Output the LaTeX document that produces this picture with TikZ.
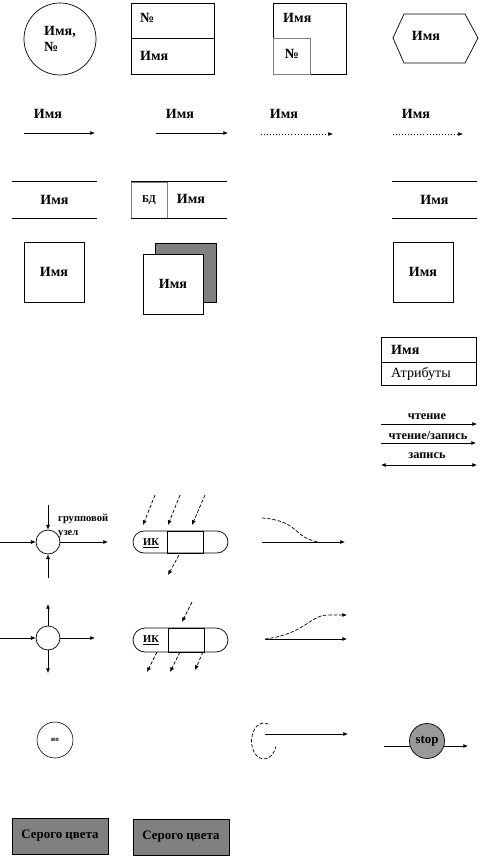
\documentclass[tikz,border=0pt]{standalone}
\usepackage{fontspec}
\setmainfont{Liberation Serif}
\usetikzlibrary{positioning, arrows.meta, shapes.geometric, shapes.misc}
\tikzset{
    lbl/.style={inner sep=0pt, font=\bfseries\fontsize{12}{14}\selectfont},
    smalllbl/.style={inner sep=0pt, font=\bfseries\fontsize{9}{12}\selectfont},
    box/.style={rectangle, draw, fill=white, line width=0.6pt, inner sep=0pt},
    line/.style={line width=0.6pt},
    arrow/.style={-{Latex[length=4pt, width=3.5pt]}, line width=0.6pt}
}

\begin{document}
\begin{tikzpicture}[
        x=0.3mm, y=-0.3mm,
        sqbox/.style={box, minimum width=18mm, minimum height=18mm, font=\bfseries\fontsize{12}{14}\selectfont},
        greybox/.style={box, fill=gray, minimum width=28.8mm, minimum height=10.8mm, font=\bfseries\fontsize{11}{13}\selectfont},
        rwlbl/.style={inner sep=0pt, font=\bfseries\fontsize{10.5}{12}\selectfont},
        junction/.style={circle, draw, fill=white, line width=0.6pt, minimum size=7.2mm, inner sep=0pt},
        pill/.style={rounded rectangle, draw, fill=white, line width=0.6pt, minimum width=28.5mm, inner sep=0pt},
        cell/.style={rectangle, draw, line width=0.6pt, minimum width=10.8mm, inner sep=0pt},
        flow/.style={arrow, dash pattern=on 3pt off 1.5pt},
        biarrow/.style={{Latex[length=4pt, width=3.5pt]}-{Latex[length=4pt, width=3.5pt]}, line width=0.6pt}
    ]
    \useasboundingbox (0,0) rectangle (492,859);

    % --- РЯД 1: СУЩНОСТИ ---
    \node[circle, draw, line width=0.6pt, minimum size=21.6mm, align=left, lbl] (ent) at (60,39) {Имя,\\№};

    \node[box, minimum width=24.9mm, minimum height=10.5mm] (numtop) at (172.5,20.5) {};
    \node[box, minimum width=24.9mm, minimum height=10.8mm] (numbot) at (172.5,56) {};
    \node[lbl, anchor=west] (numno) at (140,18) {№};
    \node[lbl, anchor=west] (numname) at (140,56) {Имя};

    \node[box, minimum width=21.9mm, minimum height=21.3mm] (outer) at (309.5,38.5) {};
    \node[box, draw=gray, minimum width=11.1mm, minimum height=10.8mm] (inner) at (291.5,56) {};
    \node[lbl, anchor=west] (outname) at (283,18) {Имя};
    \node[lbl] (inno) at (292,54) {№};

    \draw[line] (393,38) -- (404,14) -- (465,14) -- (478,38) -- (465,63) -- (404,63) -- cycle;
    \node[lbl] (hexname) at (426,36) {Имя};

    % --- РЯД 2: СТРЕЛКИ С ИМЕНЕМ ---
    \foreach \i/\lx/\ax/\bx/\ay/\sty in {1/48/24/95/133/solid, 2/180/156/228/133/solid, 3/284/261/333/134/dotted, 4/416/393/463/134/dotted} {
        \node[lbl] (name\i) at (\lx,114) {Имя};
        \coordinate (from\i) at (\ax,\ay);
        \coordinate (to\i) at (\bx,\ay);
        \draw[arrow, \sty] (from\i) -- (to\i);
    }

    % --- РЯД 3: ХРАНИЛИЩА ---
    \node[lbl, minimum width=25.5mm, minimum height=10.8mm] (store1) at (54.5,200) {Имя};
    \draw[line] (store1.north west) -- (store1.north east);
    \draw[line] (store1.south west) -- (store1.south east);

    \node[box, draw=gray, minimum width=10.8mm, minimum height=10.8mm, smalllbl] (db) at (149,200) {БД};
    \node[minimum width=28.8mm, minimum height=10.8mm, inner sep=0pt] (store2) at (179,200) {};
    \draw[line] (store2.north west) -- (store2.north east);
    \draw[line] (store2.south west) -- (store2.south east);
    \node[lbl] (dbname) at (191,199) {Имя};

    \node[lbl, minimum width=25.5mm, minimum height=10.8mm] (store3) at (434.5,200) {Имя};
    \draw[line] (store3.north west) -- (store3.north east);
    \draw[line] (store3.south west) -- (store3.south east);

    % --- РЯД 4: РАБОТЫ ---
    \node[sqbox] (proc1) at (54,272) {Имя};
    \node[sqbox, fill=gray, minimum width=18.3mm, minimum height=17.7mm] (back) at (185.5,272.5) {};
    \node[sqbox] (proc2) at (173,284) {Имя};
    \node[sqbox] (proc3) at (423,272) {Имя};

    % --- РЯД 5: СУЩНОСТЬ С АТРИБУТАМИ И ДОСТУП ---
    \node[box, minimum width=28.5mm, minimum height=7.5mm] (ename) at (428.5,349.5) {};
    \node[box, minimum width=28.5mm, minimum height=6.9mm] (eattr) at (428.5,373.5) {};
    \node[lbl, anchor=west] (enametxt) at (391,350) {Имя};
    \node[inner sep=0pt, anchor=west, font=\fontsize{12}{14}\selectfont] (eattrtxt) at (391,374) {Атрибуты};

    \node[rwlbl] (rdtxt) at (427,417) {чтение};
    \coordinate (rd1) at (381,424);
    \coordinate (rd2) at (477,424);
    \draw[arrow] (rd1) -- (rd2);

    \node[rwlbl] (rwtxt) at (428,436) {чтение/запись};
    \coordinate (rw1) at (381,443);
    \coordinate (rw2) at (476,443);
    \draw[arrow] (rw1) -- (rw2);

    \node[rwlbl] (wrtxt) at (427,456) {запись};
    \coordinate (wr1) at (381,465);
    \coordinate (wr2) at (477,465);
    \draw[biarrow] (wr1) -- (wr2);

    % --- РЯД 6: ГРУППОВОЙ УЗЕЛ И ИК ---
    \node[junction] (j1) at (48,542) {};
    \coordinate (j1w) at (0,542);
    \coordinate (j1e) at (108,542);
    \coordinate (j1n) at (48,505);
    \coordinate (j1s) at (48,578);
    \draw[arrow] (j1w) -- (j1);
    \draw[arrow] (j1) -- (j1e);
    \draw[arrow] (j1n) -- (j1);
    \draw[arrow] (j1s) -- (j1);
    \node[smalllbl, anchor=west, align=left] (j1txt) at (58,526) {групповой\\узел};

    \node[pill, minimum height=6.6mm] (ik1) at (180.5,542) {};
    \node[cell, minimum height=6.6mm] (ik1c) at (185,542) {};
    \node[smalllbl] (ik1t) at (151,543) {\underline{ИК}};
    \foreach \i/\ax/\bx in {1/155/143, 2/180/168, 3/205/192} {
        \coordinate (ina\i) at (\ax,495);
        \coordinate (inb\i) at (\bx,525);
        \draw[flow] (ina\i) -- (inb\i);
    }
    \coordinate (outa1) at (179,555);
    \coordinate (outb1) at (168,575);
    \draw[flow] (outa1) -- (outb1);

    \coordinate (m1a) at (262,542);
    \coordinate (m1b) at (345,542);
    \coordinate (m1c) at (262,518);
    \coordinate (m1d) at (318,542);
    \draw[arrow] (m1a) -- (m1b);
    \draw[line, dash pattern=on 3pt off 1.5pt] (m1c) .. controls (300,521) and (292,537) .. (m1d);

    % --- РЯД 7: РАЗВЕТВЛЕНИЕ ---
    \node[junction] (j2) at (48,638) {};
    \coordinate (j2w) at (0,638);
    \coordinate (j2e) at (95,638);
    \coordinate (j2n) at (48,604);
    \coordinate (j2s) at (48,673);
    \draw[arrow] (j2w) -- (j2);
    \draw[arrow] (j2) -- (j2e);
    \draw[arrow] (j2) -- (j2n);
    \draw[arrow] (j2) -- (j2s);

    \node[pill, minimum height=7.2mm] (ik2) at (180.5,640) {};
    \node[cell, minimum height=7.2mm] (ik2c) at (186,640) {};
    \node[smalllbl] (ik2t) at (151,640) {\underline{ИК}};
    \coordinate (ina4) at (192,602);
    \coordinate (inb4) at (182,622);
    \draw[flow] (ina4) -- (inb4);
    \foreach \i/\ax/\bx/\by in {2/157/147/672, 3/180/170/672, 4/203/195/670} {
        \coordinate (outa\i) at (\ax,652);
        \coordinate (outb\i) at (\bx,\by);
        \draw[flow] (outa\i) -- (outb\i);
    }

    \coordinate (m2a) at (265,639);
    \coordinate (m2b) at (347,639);
    \coordinate (m2c) at (347,615);
    \draw[arrow] (m2a) -- (m2b);
    \draw[flow] (m2a) .. controls (305,634) and (310,615) .. (328,615) -- (m2c);

    % --- РЯД 8: СОБЫТИЯ ---
    \node[circle, draw, line width=0.5pt, minimum size=10.8mm, inner sep=0pt, font=\bfseries\fontsize{6}{7}\selectfont] (evt) at (55,740) {ио};

    \coordinate (oc) at (264,741);
    \draw[line, dash pattern=on 3pt off 1.5pt] (oc) ++(70:3.75mm and 5.4mm) arc[start angle=70, end angle=342, x radius=3.75mm, y radius=5.4mm];
    \coordinate (oc1) at (265,734);
    \coordinate (oc2) at (348,734);
    \draw[arrow] (oc1) -- (oc2);

    \coordinate (st1) at (384,746);
    \coordinate (st2) at (468,746);
    \draw[arrow] (st1) -- (st2);
    \node[circle, draw, fill=gray!80, line width=0.6pt, minimum size=10.5mm, inner sep=0pt, font=\bfseries\fontsize{11}{13}\selectfont] (stop) at (427,741) {stop};

    % --- РЯД 9: СЕРЫЕ БЛОКИ ---
    \node[greybox] (grey1) at (60,836) {Серого цвета};
    \node[greybox] (grey2) at (181,837) {Серого цвета};

\end{tikzpicture}
\end{document}
